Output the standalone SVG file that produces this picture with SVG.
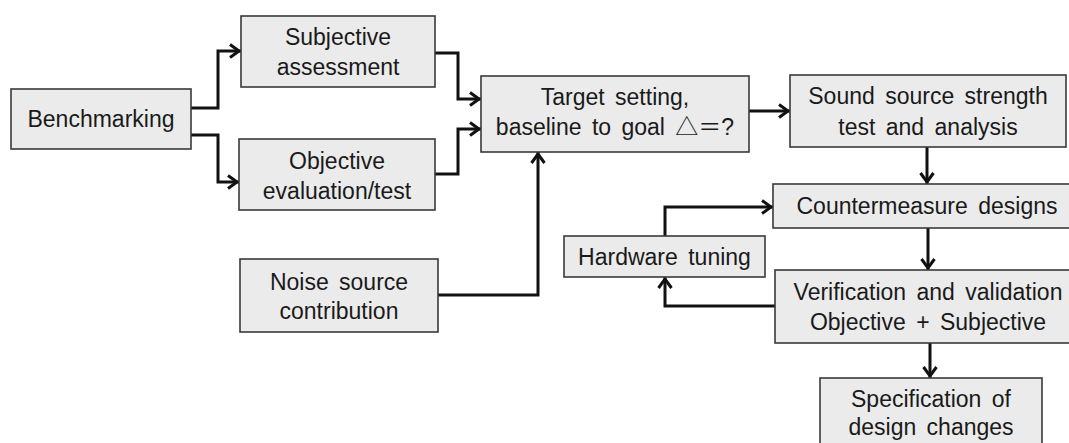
<svg xmlns="http://www.w3.org/2000/svg" width="1069" height="443" viewBox="0 0 1069 443">
  <defs>
    <style>
      .box { fill: #ebebeb; stroke: #3a3a3a; stroke-width: 1.6; }
      .lbl { font-family: "Liberation Sans", Arial, "Noto Sans CJK SC", sans-serif; font-size: 23px; fill: #1a1a1a; text-anchor: middle; word-spacing: 4px; }
      .wire { fill: none; stroke: #111; stroke-width: 3; stroke-linejoin: miter; marker-end: url(#head); }
    </style>
    <marker id="head" markerUnits="userSpaceOnUse" markerWidth="20" markerHeight="20" viewBox="-14 -10 16 20" refX="0" refY="0" orient="auto">
      <path d="M-11,-6.5 L-2,0 L-11,6.5" fill="none" stroke="#111" stroke-width="3"/>
    </marker>
  </defs>

  <rect width="1069" height="443" fill="#ffffff"/>

  <!-- connectors -->
  <g id="connectors">
    <path class="wire" d="M191,108 H218 V51 H241"/>
    <path class="wire" d="M191,135 H218 V182 H239"/>
    <path class="wire" d="M435,53 H458 V99 H481"/>
    <path class="wire" d="M435,174 H458 V129 H481"/>
    <path class="wire" d="M438,295 H538 V152"/>
    <path class="wire" d="M749,111 H790"/>
    <path class="wire" d="M927,147 V184"/>
    <path class="wire" d="M928,228 V270"/>
    <path class="wire" d="M930,343 V378"/>
    <path class="wire" d="M775,306 H665 V277"/>
    <path class="wire" d="M665,236 V207 H773"/>
  </g>

  <g id="benchmarking">
    <rect class="box" x="11" y="89" width="180" height="60"/>
    <text class="lbl" x="101" y="127">Benchmarking</text>
  </g>

  <g id="subjective">
    <rect class="box" x="241" y="16" width="194" height="71"/>
    <text class="lbl" x="338" y="45">Subjective</text>
    <text class="lbl" x="338" y="75">assessment</text>
  </g>

  <g id="objective">
    <rect class="box" x="239" y="139" width="196" height="71"/>
    <text class="lbl" x="337" y="169">Objective</text>
    <text class="lbl" x="337" y="199">evaluation/test</text>
  </g>

  <g id="noise">
    <rect class="box" x="240" y="259" width="198" height="73"/>
    <text class="lbl" x="339" y="290">Noise source</text>
    <text class="lbl" x="339" y="319">contribution</text>
  </g>

  <g id="target">
    <rect class="box" x="481" y="76" width="268" height="76"/>
    <text class="lbl" x="615" y="105">Target setting,</text>
    <text class="lbl" x="615" y="135">baseline to goal △＝?</text>
  </g>

  <g id="sound-source">
    <rect class="box" x="790" y="75" width="276" height="72"/>
    <text class="lbl" x="928" y="104">Sound source strength</text>
    <text class="lbl" x="928" y="135">test and analysis</text>
  </g>

  <g id="countermeasure">
    <rect class="box" x="773" y="184" width="300" height="44"/>
    <text class="lbl" x="927" y="214">Countermeasure designs</text>
  </g>

  <g id="hardware">
    <rect class="box" x="564" y="236" width="201" height="41"/>
    <text class="lbl" x="664.5" y="265">Hardware tuning</text>
  </g>

  <g id="verification">
    <rect class="box" x="775" y="270" width="300" height="73"/>
    <text class="lbl" x="928" y="300">Verification and validation</text>
    <text class="lbl" x="928" y="330">Objective + Subjective</text>
  </g>

  <g id="specification">
    <rect class="box" x="820" y="378" width="222" height="80"/>
    <text class="lbl" x="931" y="407">Specification of</text>
    <text class="lbl" x="931" y="435">design changes</text>
  </g>
</svg>
